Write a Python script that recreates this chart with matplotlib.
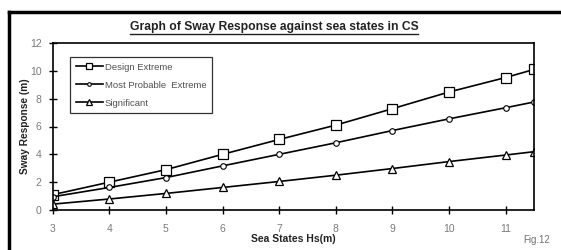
import matplotlib
matplotlib.use("Agg")
import matplotlib.pyplot as plt
from matplotlib.lines import Line2D

plt.rcParams['font.family'] = ['Liberation Sans', 'DejaVu Sans']

sea_states = [3, 4, 5, 6, 7, 8, 9, 10, 11, 11.5]
design_extreme = [1.1, 2.0, 2.9, 4.0, 5.07, 6.1, 7.28, 8.48, 9.52, 10.1]
most_probable = [0.95, 1.62, 2.33, 3.17, 4.0, 4.83, 5.71, 6.55, 7.35, 7.76]
significant = [0.42, 0.79, 1.19, 1.62, 2.05, 2.5, 2.98, 3.48, 3.95, 4.19]
x_ticks = [3, 4, 5, 6, 7, 8, 9, 10, 11]
y_ticks = [0, 2, 4, 6, 8, 10, 12]

fig = plt.figure(figsize=(5.61, 2.5), dpi=100)
fig.patch.set_facecolor('white')
ax = fig.add_axes([52.7/561, 40/250, (534-52.7)/561, (210-43)/250])

ax.plot(sea_states, design_extreme, color='black', lw=1.2, marker='s', ms=6.5,
        mfc='white', mec='black', mew=0.9, label='Design Extreme')
ax.plot(sea_states, most_probable, color='black', lw=1.2, marker='o', ms=4,
        mfc='white', mec='black', mew=0.8, label='Most Probable  Extreme')
ax.plot(sea_states, significant, color='black', lw=1.2, marker='^', ms=6,
        mfc='white', mec='black', mew=0.9, label='Significant')

ax.set_xlim(3, 11.5)
ax.set_ylim(0, 12)
ax.set_xticks(x_ticks)
ax.set_yticks(y_ticks)
ax.tick_params(direction='inout', length=6, width=1, color='black',
               labelcolor='#7a7a7a', labelsize=7.5)
ax.tick_params(axis='x', pad=7)
ax.tick_params(axis='y', pad=5)
for s in ax.spines.values():
    s.set_linewidth(1.2)
    s.set_color('black')

ax.set_xlabel('Sea States Hs(m)', fontsize=7.5, fontweight='bold', labelpad=0, color='#222222')
ax.set_ylabel('Sway Response (m)', fontsize=7.3, fontweight='bold', labelpad=0, color='#222222')

leg = ax.legend(loc='upper left', bbox_to_anchor=((70-52.7)/481, 1 - 14/167),
                frameon=True, fancybox=False, edgecolor='black', fontsize=6.8,
                handlelength=2.9, handletextpad=0.2, labelspacing=0.95,
                borderpad=0.6, borderaxespad=0, markerscale=0.65)
leg.get_frame().set_linewidth(0.9)
for t in leg.get_texts():
    t.set_color('#505050')

title = fig.text(274/561, 1 - 27/250, 'Graph of Sway Response against sea states in CS',
                 ha='center', va='center', fontsize=8.7, fontweight='bold', color='#222222')
fig.text(523/561, 10/250, 'Fig.12', ha='left', va='center', fontsize=7, color='#707070')

fig.canvas.draw()
bb = title.get_window_extent().transformed(fig.transFigure.inverted())
fig.add_artist(Line2D([bb.x0, bb.x1], [bb.y0 - 0.004, bb.y0 - 0.004],
                      transform=fig.transFigure, color='#222222', lw=1))

# outer frame (left and top)
fig.add_artist(Line2D([8.5/561, 8.5/561], [0, 1 - 12/250], transform=fig.transFigure,
                      color='black', lw=2.5, solid_capstyle='projecting'))
fig.add_artist(Line2D([8.5/561, 1], [1 - 12/250, 1 - 12/250], transform=fig.transFigure,
                      color='black', lw=2.5, solid_capstyle='projecting'))

fig.savefig('out.png', dpi=100, facecolor='white')
